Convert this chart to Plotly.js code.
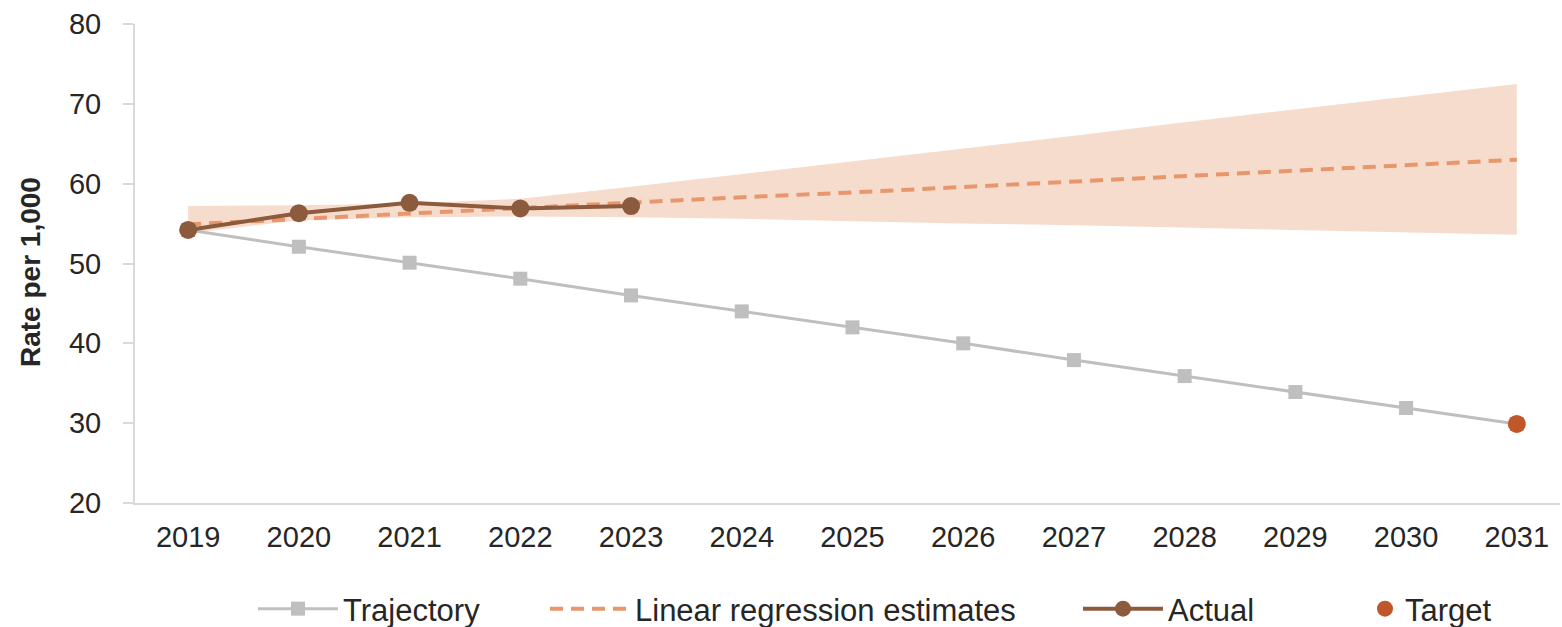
<!DOCTYPE html>
<html>
<head>
<meta charset="utf-8">
<script src="https://cdn.plot.ly/plotly-3.0.1.min.js"></script>
<style>
  html, body { margin: 0; padding: 0; background: #ffffff; }
  #chart { width: 1562px; height: 627px; }
</style>
</head>
<body>
<div id="chart"></div>
<script>
// ---- data ----
const years = [2019, 2020, 2021, 2022, 2023, 2024, 2025, 2026, 2027, 2028, 2029, 2030, 2031];
const yearLabels = ["2019", "2020", "2021", "2022", "2023", "2024", "2025", "2026", "2027", "2028", "2029", "2030", "2031"];
const trajectory = [54.2, 52.1, 50.1, 48.1, 46.0, 44.0, 42.0, 40.0, 37.9, 35.9, 33.9, 31.9, 29.9];
const regression = [54.9, 55.6, 56.3, 56.9, 57.6, 58.3, 58.9, 59.6, 60.3, 61.0, 61.6, 62.3, 63.0];
const bandUpper = [57.2, 57.3, 57.5, 58.1, 59.6, 61.2, 62.8, 64.4, 66.0, 67.7, 69.3, 70.9, 72.5];
const bandLower = [53.8, 55.4, 55.8, 55.9, 55.8, 55.6, 55.3, 55.0, 54.8, 54.5, 54.2, 53.9, 53.6];
const actualYears = [2019, 2020, 2021, 2022, 2023];
const actual = [54.2, 56.3, 57.6, 56.9, 57.2];
const targetYears = [2031];
const target = [29.9];
const yTitle = "Rate per 1,000";

const FONT = "Liberation Sans, Arial, sans-serif";
const TXT = "#262626";

const traces = [
  { x: years, y: bandLower, type: "scatter", mode: "lines", line: { width: 0, color: "rgba(0,0,0,0)" },
    showlegend: false, hoverinfo: "skip" },
  { x: years, y: bandUpper, type: "scatter", mode: "lines", line: { width: 0, color: "rgba(0,0,0,0)" },
    fill: "tonexty", fillcolor: "#f5dccd", showlegend: false, hoverinfo: "skip" },
  { x: years, y: trajectory, name: "Trajectory", type: "scatter", mode: "lines+markers",
    line: { color: "#bfbfbf", width: 3 }, marker: { symbol: "square", size: 14, color: "#bfbfbf" },
    legend: "legend" },
  { x: years, y: regression, name: "Linear regression estimates", type: "scatter", mode: "lines",
    line: { color: "#e8976c", width: 4, dash: "13px,8px" }, legend: "legend2" },
  { x: actualYears, y: actual, name: "Actual", type: "scatter", mode: "lines+markers",
    line: { color: "#8c5a3c", width: 4 }, marker: { symbol: "circle", size: 18, color: "#8c5a3c" },
    legend: "legend3" },
  { x: targetYears, y: target, name: "Target", type: "scatter", mode: "markers",
    marker: { symbol: "circle", size: 18, color: "#c0572b" }, legend: "legend4" }
];

function leg(px, iw) {
  return { x: px / 1562, xref: "container", xanchor: "left",
           y: (627 - 609) / 627, yref: "container", yanchor: "middle", orientation: "h",
           itemwidth: iw, bgcolor: "rgba(0,0,0,0)", font: { family: FONT, size: 31, color: TXT },
           tracegroupgap: 0 };
}

const layout = {
  width: 1562, height: 627,
  margin: { l: 135, r: 2, t: 24, b: 124, autoexpand: false },
  paper_bgcolor: "#ffffff", plot_bgcolor: "#ffffff",
  font: { family: FONT, color: TXT },
  showlegend: true,
  xaxis: {
    type: "linear", range: [2018.52, 2031.39],
    tickmode: "array", tickvals: years, ticktext: yearLabels,
    showline: true, linecolor: "#d9d9d9", linewidth: 2,
    ticks: "", showgrid: false, zeroline: false,
    tickfont: { family: FONT, size: 29, color: TXT },
    ticklabelstandoff: 7
  },
  yaxis: {
    range: [20, 80], dtick: 10, tick0: 20,
    showline: true, linecolor: "#d9d9d9", linewidth: 2,
    ticks: "outside", ticklen: 10, tickwidth: 2, tickcolor: "#d9d9d9",
    showgrid: false, zeroline: false,
    tickfont: { family: FONT, size: 29, color: TXT },
    ticklabelstandoff: 16
  },
  annotations: [{
    text: "<b>" + yTitle + "</b>", textangle: -90,
    xref: "paper", x: (30 - 135) / 1425, xanchor: "center",
    yref: "paper", y: (503 - 272) / 479, yanchor: "middle",
    showarrow: false, font: { family: FONT, size: 28, color: TXT }
  }],
  legend: leg(253, 80),
  legend2: leg(545, 80),
  legend3: leg(1078, 80),
  legend4: leg(1365, 30)
};

Plotly.newPlot("chart", traces, layout, { displayModeBar: false, staticPlot: true });
</script>
</body>
</html>
